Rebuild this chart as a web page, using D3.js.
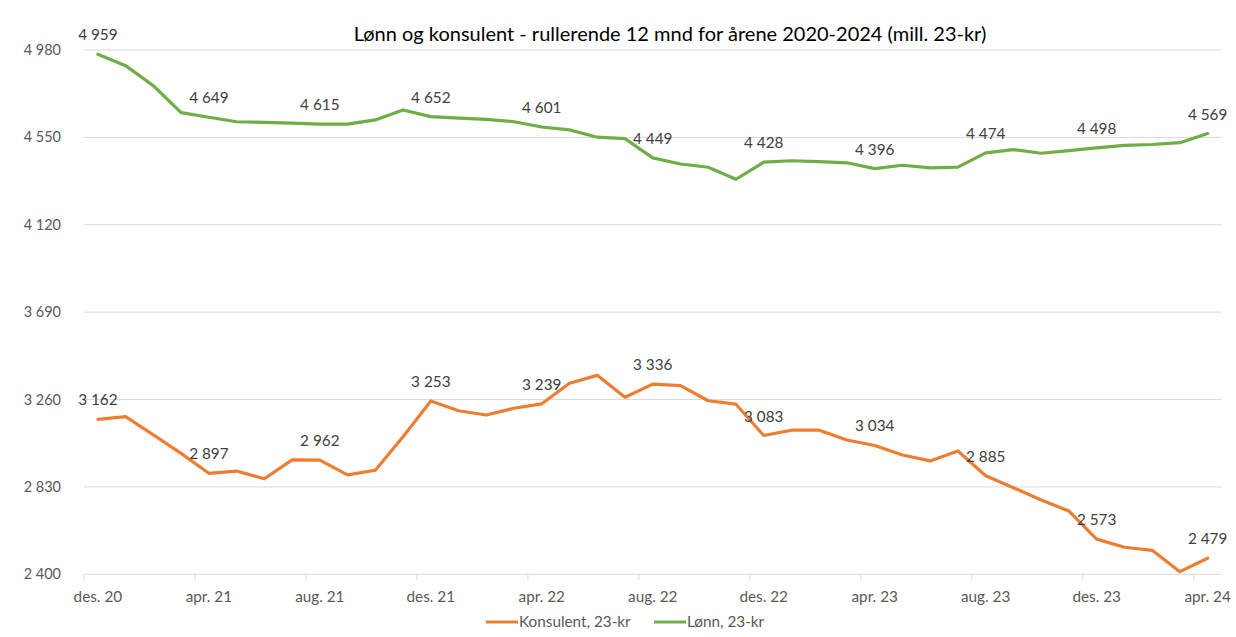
<!DOCTYPE html>
<html><head><meta charset="utf-8">
<script src="https://cdn.jsdelivr.net/npm/d3@7"></script>
<style>
body{margin:0;background:#fff;}
text{font-family:Lato,"Open Sans",sans-serif;}
</style></head>
<body><svg id="c" width="1236" height="637"></svg>
<script>
const months = ["des. 20","jan. 21","feb. 21","mar. 21","apr. 21","mai 21","jun. 21","jul. 21","aug. 21","sep. 21","okt. 21","nov. 21",
"des. 21","jan. 22","feb. 22","mar. 22","apr. 22","mai 22","jun. 22","jul. 22","aug. 22","sep. 22","okt. 22","nov. 22",
"des. 22","jan. 23","feb. 23","mar. 23","apr. 23","mai 23","jun. 23","jul. 23","aug. 23","sep. 23","okt. 23","nov. 23",
"des. 23","jan. 24","feb. 24","mar. 24","apr. 24"];
const lonn = [4959,4903,4804,4672,4649,4627,4624,4620,4615,4615,4636,4685,
4652,4645,4639,4627,4601,4587,4551,4544,4449,4419,4403,4344,
4428,4435,4431,4425,4396,4413,4400,4404,4474,4490,4472,4485,
4498,4511,4515,4524,4569];
const konsulent = [3162,3176,3086,2995,2897,2908,2870,2963,2962,2889,2912,3077,
3253,3205,3184,3217,3239,3340,3379,3271,3336,3328,3254,3237,
3083,3109,3109,3061,3034,2987,2958,3007,2885,2826,2766,2711,
2573,2533,2518,2413,2479];
const yTicks = [2400,2830,3260,3690,4120,4550,4980];
const seriesNames = ["Konsulent, 23-kr","Lønn, 23-kr"];
const colors = ["#ED7D31","#70AD47"];
const title = "Lønn og konsulent - rullerende 12 mnd for årene 2020-2024 (mill. 23-kr)";

const svg = d3.select("#c");
const loc = d3.formatLocale({decimal:",",thousands:"\u00a0",grouping:[3],currency:["",""]});
const fmt = loc.format(",d");

const pLeft=84, pRight=1221.5, pTop=50, pBottom=574.3;
const x = d3.scaleBand().domain(months).range([pLeft,pRight]);
const y = d3.scaleLinear().domain([2400,4980]).range([pBottom,pTop]);

// gridlines
svg.append("g").selectAll("line").data(yTicks).join("line")
  .attr("x1",pLeft).attr("x2",pRight).attr("y1",d=>y(d)).attr("y2",d=>y(d))
  .attr("stroke","#D9D9D9").attr("stroke-width",1);

// y labels
svg.append("g").selectAll("text").data(yTicks).join("text")
  .attr("x",61).attr("y",d=>y(d)+5).attr("text-anchor","end")
  .attr("font-size",14.5).attr("fill","#595959").text(d=>fmt(d));

// x ticks
const tickIdx = months.map((m,i)=>i).filter(i=>i%4===0);
svg.append("g").selectAll("line").data(tickIdx).join("line")
  .attr("x1",i=>x(months[i])).attr("x2",i=>x(months[i]))
  .attr("y1",pBottom).attr("y2",pBottom+6)
  .attr("stroke","#D9D9D9");
svg.append("g").selectAll("text").data(tickIdx).join("text")
  .attr("x",i=>x(months[i])+x.bandwidth()/2).attr("y",602).attr("text-anchor","middle")
  .attr("font-size",15.3).attr("fill","#595959").text(i=>months[i]);

// lines
const line = d3.line().x((d,i)=>x(months[i])+x.bandwidth()/2).y(d=>y(d));
[konsulent,lonn].forEach((s,k)=>{
  svg.append("path").datum(s).attr("d",line).attr("fill","none")
    .attr("stroke",colors[k]).attr("stroke-width",3.2).attr("stroke-linejoin","round").attr("stroke-linecap","round");
  svg.append("g").selectAll("text").data(tickIdx).join("text")
    .attr("x",i=>x(months[i])+x.bandwidth()/2).attr("y",i=>y(s[i])-14)
    .attr("text-anchor","middle").attr("font-size",15.3).attr("fill","#404040")
    .text(i=>fmt(s[i]));
});

// title
svg.append("text").attr("x",670).attr("y",41).attr("text-anchor","middle")
  .attr("font-size",20).attr("fill","#000").text(title);

// legend
const leg = [{x:486,tx:519},{x:654,tx:687}];
leg.forEach((l,k)=>{
  svg.append("line").attr("x1",l.x).attr("x2",l.x+32).attr("y1",622).attr("y2",622)
    .attr("stroke",colors[k]).attr("stroke-width",3);
  svg.append("text").attr("x",l.tx).attr("y",627).attr("font-size",15.3).attr("fill","#595959").text(seriesNames[k]);
});
</script></body></html>
